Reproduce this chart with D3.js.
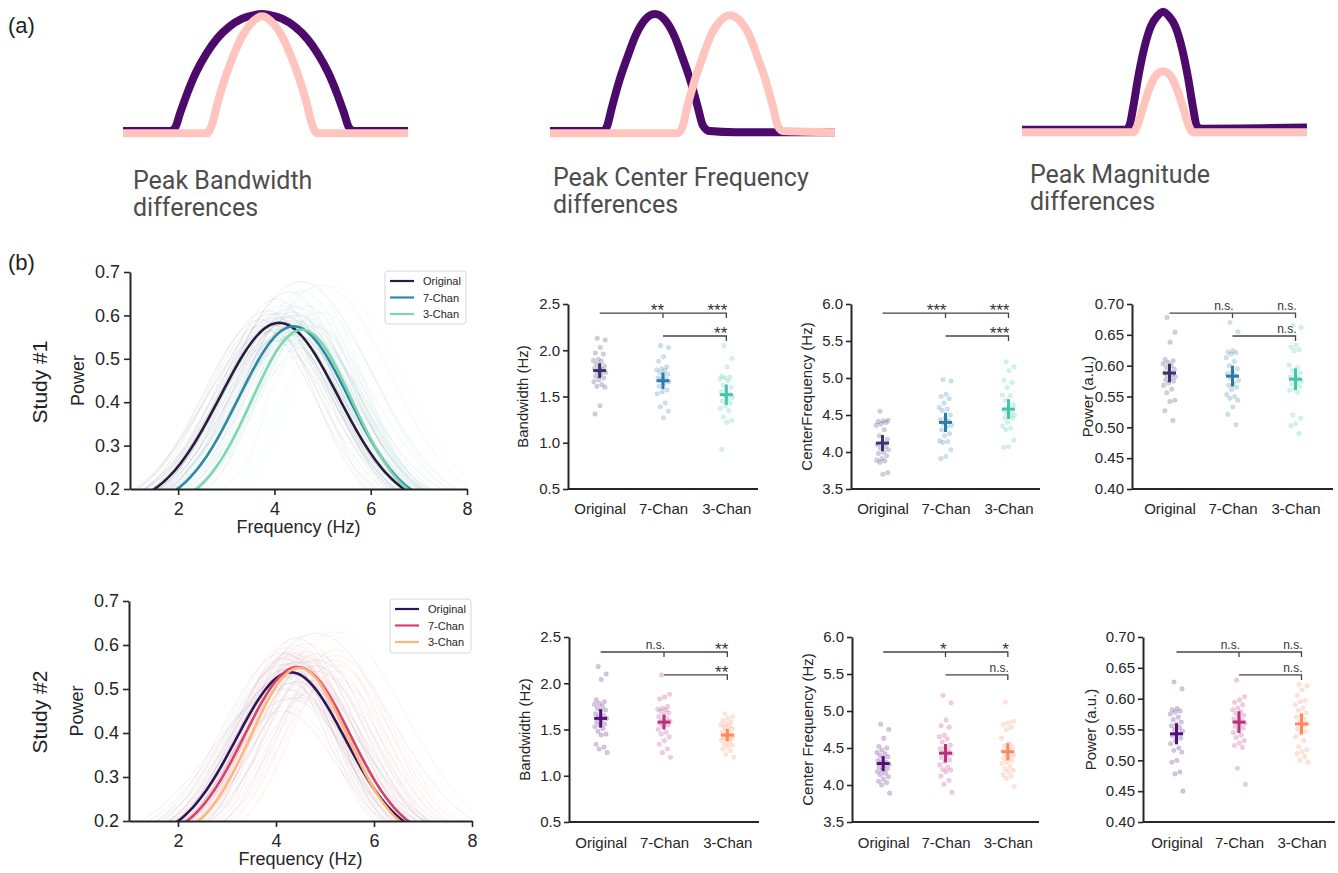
<!DOCTYPE html>
<html>
<head>
<meta charset="utf-8">
<script src="https://cdn.jsdelivr.net/npm/d3@7"></script>
<style>
  body { margin: 0; background: #fff; }
  svg text { font-family: "Liberation Sans", Arial, sans-serif; }
</style>
</head>
<body>
<svg id="fig" width="1338" height="873"></svg>
<script>
// ---- data ----
var groups = ["Original", "7-Chan", "3-Chan"];
var freqTicks = [2, 4, 6, 8];
var powerTicks = [0.2, 0.3, 0.4, 0.5, 0.6, 0.7];
var bwTicks = [0.5, 1.0, 1.5, 2.0, 2.5];
var cfTicks = [3.5, 4.0, 4.5, 5.0, 5.5, 6.0];
var pwTicks = [0.40, 0.45, 0.50, 0.55, 0.60, 0.65, 0.70];

// schematic peaks for panel (a): [frequency, relative power]
var schemBwWide = [[0,0],[1.65,0],[1.83,0.03],[2.0,0.15],[2.25,0.32],[2.56,0.5],[2.92,0.66],[3.3,0.79],[3.72,0.89],[4.18,0.96],[4.6,0.99],[4.88,1],[5.16,0.99],[5.58,0.96],[6.04,0.89],[6.46,0.79],[6.84,0.66],[7.2,0.5],[7.51,0.32],[7.76,0.15],[7.93,0.03],[8.11,0],[10,0]];
var schemBwNarrow = [[0,-0.02],[2.95,-0.02],[3.13,0.06],[3.34,0.26],[3.62,0.48],[3.9,0.66],[4.18,0.81],[4.46,0.91],[4.7,0.965],[4.88,0.98],[5.06,0.965],[5.3,0.91],[5.58,0.81],[5.86,0.66],[6.14,0.48],[6.42,0.26],[6.63,0.06],[6.81,-0.02],[10,-0.02]];
var schemCfLow = [[0,0],[1.86,0],[2.0,0.04],[2.17,0.2],[2.42,0.42],[2.7,0.62],[3.01,0.82],[3.33,0.95],[3.68,1.0],[4.03,0.95],[4.35,0.82],[4.66,0.62],[4.94,0.42],[5.19,0.2],[5.36,0.05],[5.6,0],[6.5,-0.01],[10,-0.01]];
var schemCfHigh = [[0,-0.02],[4.46,-0.02],[4.64,0.03],[4.81,0.2],[5.06,0.42],[5.34,0.62],[5.65,0.82],[5.97,0.94],[6.32,0.99],[6.67,0.94],[6.99,0.82],[7.3,0.62],[7.58,0.42],[7.83,0.2],[8.0,0.04],[8.18,0],[10,-0.01]];
var schemMagHigh = [[0,0.01],[3.62,0.01],[3.76,0.04],[3.9,0.2],[4.07,0.45],[4.28,0.7],[4.53,0.9],[4.74,0.98],[4.95,1.02],[5.16,0.98],[5.37,0.9],[5.62,0.7],[5.83,0.45],[6.0,0.2],[6.14,0.04],[6.28,0.02],[10,0.03]];
var schemMagLow = [[0,-0.01],[3.9,-0.01],[4.04,0.04],[4.21,0.17],[4.42,0.33],[4.63,0.45],[4.81,0.5],[4.95,0.51],[5.09,0.5],[5.27,0.45],[5.48,0.33],[5.69,0.17],[5.86,0.04],[6.0,-0.01],[10,-0.01]];

// Study 1 per-subject peak parameters (Original, 7-Chan, 3-Chan)
var s1Bw = [
  [2.13, 2.11, 2.03, 1.97, 1.96, 1.90, 1.89, 1.88, 1.85, 1.83, 1.81, 1.80, 1.79, 1.77, 1.76, 1.74, 1.72, 1.70, 1.68, 1.66, 1.63, 1.61, 1.60, 1.40, 1.31],
  [2.05, 2.03, 1.93, 1.88, 1.82, 1.80, 1.79, 1.78, 1.76, 1.74, 1.72, 1.70, 1.69, 1.68, 1.66, 1.64, 1.61, 1.57, 1.55, 1.53, 1.43, 1.39, 1.34, 1.27],
  [2.05, 1.91, 1.82, 1.72, 1.71, 1.70, 1.69, 1.67, 1.62, 1.60, 1.57, 1.55, 1.53, 1.51, 1.49, 1.47, 1.45, 1.43, 1.40, 1.37, 1.35, 1.28, 1.24, 1.22, 0.93]
];
var s1Cf = [
  [4.55, 4.43, 4.42, 4.41, 4.40, 4.38, 4.36, 4.30, 4.22, 4.17, 4.13, 4.10, 4.07, 4.05, 4.03, 4.00, 3.98, 3.95, 3.91, 3.89, 3.88, 3.86, 3.72, 3.70],
  [4.98, 4.96, 4.78, 4.75, 4.72, 4.66, 4.60, 4.58, 4.56, 4.50, 4.46, 4.44, 4.42, 4.38, 4.36, 4.34, 4.30, 4.25, 4.22, 4.15, 4.14, 4.13, 4.03, 3.94, 3.91],
  [5.22, 5.15, 5.10, 4.97, 4.94, 4.87, 4.77, 4.76, 4.70, 4.64, 4.60, 4.57, 4.54, 4.52, 4.50, 4.49, 4.46, 4.46, 4.40, 4.35, 4.32, 4.30, 4.16, 4.07, 4.06]
];
var s1Pw = [
  [0.678, 0.654, 0.638, 0.610, 0.608, 0.605, 0.603, 0.600, 0.597, 0.594, 0.590, 0.588, 0.586, 0.584, 0.582, 0.580, 0.577, 0.575, 0.572, 0.568, 0.562, 0.556, 0.544, 0.542, 0.527, 0.511],
  [0.670, 0.655, 0.624, 0.622, 0.621, 0.619, 0.613, 0.607, 0.600, 0.595, 0.590, 0.587, 0.584, 0.580, 0.576, 0.572, 0.568, 0.565, 0.561, 0.553, 0.550, 0.547, 0.544, 0.533, 0.521, 0.504],
  [0.666, 0.662, 0.633, 0.630, 0.626, 0.624, 0.601, 0.596, 0.592, 0.588, 0.585, 0.582, 0.580, 0.578, 0.575, 0.572, 0.570, 0.566, 0.562, 0.560, 0.557, 0.520, 0.515, 0.506, 0.503, 0.490]
];
var s1BwMean = [1.78, 1.67, 1.52], s1BwErr = [0.08, 0.09, 0.11];
var s1CfMean = [4.12, 4.40, 4.58], s1CfErr = [0.11, 0.13, 0.135];
var s1PwMean = [0.588, 0.583, 0.578], s1PwErr = [0.015, 0.017, 0.0175];
var s1CurveCf = [4.10, 4.40, 4.57], s1CurvePw = [0.583, 0.575, 0.567], s1CurveBw = [1.78, 1.67, 1.52];
var s1Sig = { bw: ["**", "***", "**"], cf: ["***", "***", "***"], pw: ["n.s.", "n.s.", "n.s."] };

// Study 2
var s2Bw = [
  [2.18, 2.10, 2.04, 1.82, 1.80, 1.78, 1.77, 1.75, 1.73, 1.71, 1.70, 1.67, 1.65, 1.64, 1.62, 1.60, 1.58, 1.56, 1.55, 1.53, 1.51, 1.48, 1.45, 1.44, 1.34, 1.31, 1.29, 1.25],
  [2.09, 1.88, 1.85, 1.83, 1.75, 1.73, 1.72, 1.71, 1.70, 1.68, 1.66, 1.64, 1.62, 1.60, 1.59, 1.58, 1.56, 1.55, 1.53, 1.50, 1.47, 1.45, 1.42, 1.38, 1.34, 1.29, 1.25, 1.20],
  [1.67, 1.64, 1.62, 1.60, 1.58, 1.56, 1.55, 1.54, 1.52, 1.51, 1.49, 1.47, 1.46, 1.44, 1.43, 1.42, 1.41, 1.40, 1.39, 1.38, 1.36, 1.34, 1.33, 1.31, 1.29, 1.27, 1.23, 1.20]
];
var s2Cf = [
  [4.82, 4.75, 4.63, 4.52, 4.50, 4.47, 4.44, 4.42, 4.40, 4.38, 4.36, 4.33, 4.31, 4.30, 4.28, 4.26, 4.24, 4.22, 4.20, 4.18, 4.16, 4.14, 4.11, 4.08, 4.05, 4.03, 4.00, 3.89],
  [5.21, 5.11, 4.88, 4.80, 4.78, 4.67, 4.65, 4.62, 4.58, 4.54, 4.51, 4.49, 4.47, 4.44, 4.42, 4.40, 4.37, 4.34, 4.31, 4.27, 4.24, 4.21, 4.20, 4.18, 4.12, 4.06, 4.01, 3.90],
  [5.12, 4.86, 4.84, 4.82, 4.78, 4.75, 4.63, 4.56, 4.53, 4.51, 4.49, 4.46, 4.44, 4.42, 4.40, 4.38, 4.36, 4.33, 4.31, 4.29, 4.25, 4.22, 4.20, 4.18, 4.14, 4.12, 4.09, 3.98]
];
var s2Pw = [
  [0.627, 0.616, 0.584, 0.582, 0.580, 0.578, 0.575, 0.570, 0.566, 0.562, 0.558, 0.556, 0.553, 0.550, 0.547, 0.544, 0.540, 0.536, 0.532, 0.527, 0.520, 0.516, 0.513, 0.500, 0.497, 0.481, 0.478, 0.450],
  [0.630, 0.603, 0.598, 0.594, 0.590, 0.585, 0.582, 0.579, 0.576, 0.573, 0.570, 0.567, 0.565, 0.562, 0.560, 0.558, 0.555, 0.552, 0.548, 0.545, 0.541, 0.537, 0.532, 0.528, 0.524, 0.521, 0.487, 0.461],
  [0.623, 0.621, 0.614, 0.605, 0.597, 0.595, 0.590, 0.585, 0.581, 0.577, 0.573, 0.570, 0.566, 0.562, 0.559, 0.555, 0.551, 0.547, 0.543, 0.538, 0.532, 0.522, 0.517, 0.514, 0.511, 0.506, 0.500, 0.497]
];
var s2BwMean = [1.62, 1.58, 1.44], s2BwErr = [0.10, 0.08, 0.067];
var s2CfMean = [4.29, 4.43, 4.45], s2CfErr = [0.10, 0.124, 0.117];
var s2PwMean = [0.543, 0.562, 0.559], s2PwErr = [0.017, 0.0176, 0.0168];
var s2CurveCf = [4.30, 4.44, 4.47], s2CurvePw = [0.538, 0.550, 0.548], s2CurveBw = [1.62, 1.58, 1.44];
var s2Sig = { bw: ["n.s.", "**", "**"], cf: ["*", "*", "n.s."], pw: ["n.s.", "n.s.", "n.s."] };

// ---- colours ----
var s1LineCols = ["#2b1c3c", "#3089a6", "#7dd6ad"];
var s1DotCols = ["#3d3270", "#2c7cab", "#45c4ad"];
var s2LineCols = ["#2e1458", "#d8436b", "#fdb67c"];
var s2DotCols = ["#51107a", "#b8327c", "#fb8a5e"];
var schemDark = "#4c0a6b", schemLight = "#ffc4bd";

var svg = d3.select("#fig");

function styleAxis(sel, fs) {
  sel.attr("font-family", null).attr("font-size", null);
  sel.select(".domain").attr("stroke", "#262626").attr("stroke-width", 2);
  sel.selectAll(".tick line").attr("stroke", "#262626").attr("stroke-width", 1.6);
  sel.selectAll(".tick text").attr("fill", "#262626").style("font-size", fs + "px");
}

// peak shape used for the fitted spectra
function peak(f, cf, pw, bw) {
  var s = 0.685 * bw;
  return 0.155 + (pw - 0.155) * Math.exp(-(f - cf) * (f - cf) / (2 * s * s));
}
var freqGrid = d3.range(0.5, 8.55, 0.05);

// ---- panel (a) ----
svg.append("text").attr("x", 8).attr("y", 33).style("font-size", "22px").attr("fill", "#222").text("(a)");
svg.append("text").attr("x", 8).attr("y", 270).style("font-size", "22px").attr("fill", "#222").text("(b)");

var schemPanels = [
  { x0: 123, dark: schemBwWide, light: schemBwNarrow, lines: ["Peak Bandwidth", "differences"], tx: 133, ty: 189 },
  { x0: 550, dark: schemCfLow, light: schemCfHigh, lines: ["Peak Center Frequency", "differences"], tx: 553, ty: 186 },
  { x0: 1022, dark: schemMagHigh, light: schemMagLow, lines: ["Peak Magnitude", "differences"], tx: 1030, ty: 183 }
];
schemPanels.forEach(function(p) {
  var sx = d3.scaleLinear().domain([0, 10]).range([p.x0, p.x0 + 285]);
  var sy = d3.scaleLinear().domain([0, 1]).range([131, 14]);
  var ln = d3.line().x(d => sx(d[0])).y(d => sy(d[1])).curve(d3.curveMonotoneX);
  svg.append("path").attr("d", ln(p.dark)).attr("fill", "none").attr("stroke", schemDark)
    .attr("stroke-width", 8).attr("stroke-linejoin", "round");
  svg.append("path").attr("d", ln(p.light)).attr("fill", "none").attr("stroke", schemLight)
    .attr("stroke-width", 8).attr("stroke-linejoin", "round");
  var t = svg.append("text").attr("x", p.tx).attr("y", p.ty)
    .style("font-family", "Roboto, sans-serif").style("font-size", "25px").attr("fill", "#4d4d4d");
  p.lines.forEach(function(s, i) {
    t.append("tspan").attr("x", p.tx).attr("dy", i === 0 ? 0 : 27).text(s);
  });
});

// ---- row labels ----
[["Study #1", 382], ["Study #2", 712]].forEach(function(r) {
  svg.append("text").attr("transform", "translate(40," + r[1] + ") rotate(-90)")
    .attr("text-anchor", "middle").attr("dy", "0.35em").style("font-size", "21px").attr("fill", "#222").text(r[0]);
});

// ---- spectra line charts ----
function lineChart(box, bw, cf, pw, mCf, mPw, mBw, cols) {
  var x = d3.scaleLinear().domain([1, 8]).range([box.l, box.r]);
  var y = d3.scaleLinear().domain([0.2, 0.7]).range([box.b, box.t]);
  var clipId = "clip" + box.id;
  svg.append("clipPath").attr("id", clipId).append("rect")
    .attr("x", box.l).attr("y", box.t - 10).attr("width", box.r - box.l).attr("height", box.b - box.t + 10);
  var g = svg.append("g").attr("clip-path", "url(#" + clipId + ")");
  var line = d3.line().x(d => x(d[0])).y(d => y(d[1]));

  groups.forEach(function(name, gi) {
    var n = Math.min(bw[gi].length, cf[gi].length, pw[gi].length);
    for (var i = 0; i < n; i++) {
      var c = cf[gi][(i * 7) % n], b = bw[gi][(i * 11) % n], p = pw[gi][i];
      g.append("path")
        .attr("d", line(freqGrid.map(f => [f, peak(f, c, p, b)])))
        .attr("fill", "none").attr("stroke", cols[gi]).attr("stroke-opacity", 0.08).attr("stroke-width", 1);
    }
  });
  groups.forEach(function(name, gi) {
    g.append("path")
      .attr("d", line(freqGrid.map(f => [f, peak(f, mCf[gi], mPw[gi], mBw[gi])])))
      .attr("fill", "none").attr("stroke", cols[gi]).attr("stroke-width", 2.6);
  });

  var ax = svg.append("g").attr("transform", "translate(0," + box.b + ")")
    .call(d3.axisBottom(x).tickValues(freqTicks).tickFormat(d3.format("d")).tickSize(6).tickPadding(7).tickSizeOuter(0));
  styleAxis(ax, 18);
  var ay = svg.append("g").attr("transform", "translate(" + box.l + ",0)")
    .call(d3.axisLeft(y).tickValues(powerTicks).tickFormat(d3.format(".1f")).tickSize(6).tickPadding(4).tickSizeOuter(0));
  styleAxis(ay, 18);

  svg.append("text").attr("x", (box.l + box.r) / 2).attr("y", box.b + 44)
    .attr("text-anchor", "middle").style("font-size", "18px").attr("fill", "#262626").text("Frequency (Hz)");
  svg.append("text").attr("transform", "translate(" + box.ylx + "," + (box.t + box.b) / 2 + ") rotate(-90)")
    .attr("text-anchor", "middle").attr("dy", "0.35em").style("font-size", "18px").attr("fill", "#262626").text("Power");

  // legend
  var L = box.leg;
  svg.append("rect").attr("x", L.x).attr("y", L.y).attr("width", L.w).attr("height", L.h).attr("rx", 3)
    .attr("fill", "#fff").attr("fill-opacity", 0.85).attr("stroke", "#d6d6d6");
  groups.forEach(function(name, gi) {
    var yy = L.y + 10 + gi * 16.5;
    svg.append("line").attr("x1", L.x + 5).attr("x2", L.x + 29).attr("y1", yy).attr("y2", yy)
      .attr("stroke", cols[gi]).attr("stroke-width", 2.2);
    svg.append("text").attr("x", L.x + 38).attr("y", yy + 4).style("font-size", "11px").attr("fill", "#262626").text(name);
  });
}

lineChart({ id: 1, l: 130, r: 467, t: 272, b: 489, ylx: 78, leg: { x: 385, y: 271, w: 81, h: 53 } },
  s1Bw, s1Cf, s1Pw, s1CurveCf, s1CurvePw, s1CurveBw, s1LineCols);
lineChart({ id: 2, l: 129, r: 472, t: 601, b: 821, ylx: 77, leg: { x: 390, y: 599, w: 81, h: 54 } },
  s2Bw, s2Cf, s2Pw, s2CurveCf, s2CurvePw, s2CurveBw, s2LineCols);

// ---- strip plots with mean +/- error ----
function jitter(i) {
  var f = (i * 0.6180339887 + 0.31) % 1;
  return (f - 0.5) * 13;
}

function scatterPanel(p) {
  var x = d3.scalePoint().domain(groups).range([p.x0, p.x1]).padding(p.pad);
  var y = d3.scaleLinear().domain([p.ticks[0], p.ticks[p.ticks.length - 1]]).range([p.bottom, p.top]);
  var g = svg.append("g");

  groups.forEach(function(name, gi) {
    g.selectAll(null).data(p.data[gi]).enter().append("circle")
      .attr("cx", (d, i) => x(name) + jitter(i))
      .attr("cy", d => y(d))
      .attr("r", 2.3)
      .attr("fill", p.cols[gi]).attr("fill-opacity", 0.24)
      .attr("stroke", p.cols[gi]).attr("stroke-opacity", 0.1);
  });
  groups.forEach(function(name, gi) {
    var cx = x(name);
    g.append("line").attr("x1", cx - 6.5).attr("x2", cx + 6.5)
      .attr("y1", y(p.mean[gi])).attr("y2", y(p.mean[gi]))
      .attr("stroke", p.cols[gi]).attr("stroke-width", 3);
    g.append("line").attr("x1", cx).attr("x2", cx)
      .attr("y1", y(p.mean[gi] - p.err[gi])).attr("y2", y(p.mean[gi] + p.err[gi]))
      .attr("stroke", p.cols[gi]).attr("stroke-width", 3);
  });

  var ax = svg.append("g").attr("transform", "translate(0," + p.bottom + ")")
    .call(d3.axisBottom(x).tickSize(0).tickPadding(p.xpad));
  styleAxis(ax, 15);
  ax.select(".domain").attr("d", "M" + p.x0 + ",0H" + p.x1);
  var ay = svg.append("g").attr("transform", "translate(" + p.x0 + ",0)")
    .call(d3.axisLeft(y).tickValues(p.ticks).tickFormat(d3.format(p.fmt)).tickSize(5).tickPadding(3).tickSizeOuter(0));
  styleAxis(ay, 15);

  svg.append("text").attr("transform", "translate(" + p.ylx + "," + (p.top + p.bottom) / 2 + ") rotate(-90)")
    .attr("text-anchor", "middle").attr("dy", "0.35em").style("font-size", "15px").attr("fill", "#262626").text(p.label);

  // significance brackets
  var h = p.bottom - p.top;
  var yb1 = p.top + p.bar[0] * h, yb2 = p.top + p.bar[1] * h;
  var c0 = x(groups[0]), c1 = x(groups[1]), c2 = x(groups[2]);
  var bs = svg.append("g").attr("fill", "none").attr("stroke", "#444").attr("stroke-width", 1.3);
  bs.append("path").attr("d", "M" + c0 + "," + yb1 + "H" + c2 + "v5");
  bs.append("path").attr("d", "M" + c1 + "," + yb1 + "v5");
  bs.append("path").attr("d", "M" + c1 + "," + yb2 + "H" + c2 + "v5");
  [[c1, yb1, p.sig[0]], [c2, yb1, p.sig[1]], [c2, yb2, p.sig[2]]].forEach(function(s) {
    var star = s[2].indexOf("*") >= 0;
    svg.append("text").attr("x", s[0] + 1).attr("y", star ? s[1] + 3 : s[1] - 3)
      .attr("text-anchor", "end").style("font-size", star ? "17px" : "12px").attr("fill", "#333").text(s[2]);
  });
}

var row1 = { top: 304, bottom: 489, bar: [0.049, 0.173], xpad: 14 };
var row2 = { top: 637, bottom: 822, bar: [0.081, 0.205], xpad: 15 };

function panel(row, extra) { return Object.assign({}, row, extra); }

scatterPanel(panel(row1, { x0: 568, x1: 758, pad: 0.5, ticks: bwTicks, fmt: ".1f", label: "Bandwidth (Hz)", ylx: 523,
  data: s1Bw, mean: s1BwMean, err: s1BwErr, cols: s1DotCols, sig: s1Sig.bw }));
scatterPanel(panel(row1, { x0: 851, x1: 1040, pad: 0.5, ticks: cfTicks, fmt: ".1f", label: "CenterFrequency (Hz)", ylx: 807,
  data: s1Cf, mean: s1CfMean, err: s1CfErr, cols: s1DotCols, sig: s1Sig.cf }));
scatterPanel(panel(row1, { x0: 1132, x1: 1333, pad: 0.595, ticks: pwTicks, fmt: ".2f", label: "Power (a.u.)", ylx: 1088,
  data: s1Pw, mean: s1PwMean, err: s1PwErr, cols: s1DotCols, sig: s1Sig.pw }));

scatterPanel(panel(row2, { x0: 569, x1: 759, pad: 0.5, ticks: bwTicks, fmt: ".1f", label: "Bandwidth (Hz)", ylx: 525,
  data: s2Bw, mean: s2BwMean, err: s2BwErr, cols: s2DotCols, sig: s2Sig.bw }));
scatterPanel(panel(row2, { x0: 852, x1: 1039, pad: 0.5, ticks: cfTicks, fmt: ".1f", label: "Center Frequency (Hz)", ylx: 808,
  data: s2Cf, mean: s2CfMean, err: s2CfErr, cols: s2DotCols, sig: s2Sig.cf }));
scatterPanel(panel(row2, { x0: 1143, x1: 1335, pad: 0.536, ticks: pwTicks, fmt: ".2f", label: "Power (a.u.)", ylx: 1091,
  data: s2Pw, mean: s2PwMean, err: s2PwErr, cols: s2DotCols, sig: s2Sig.pw }));
</script>
</body>
</html>
